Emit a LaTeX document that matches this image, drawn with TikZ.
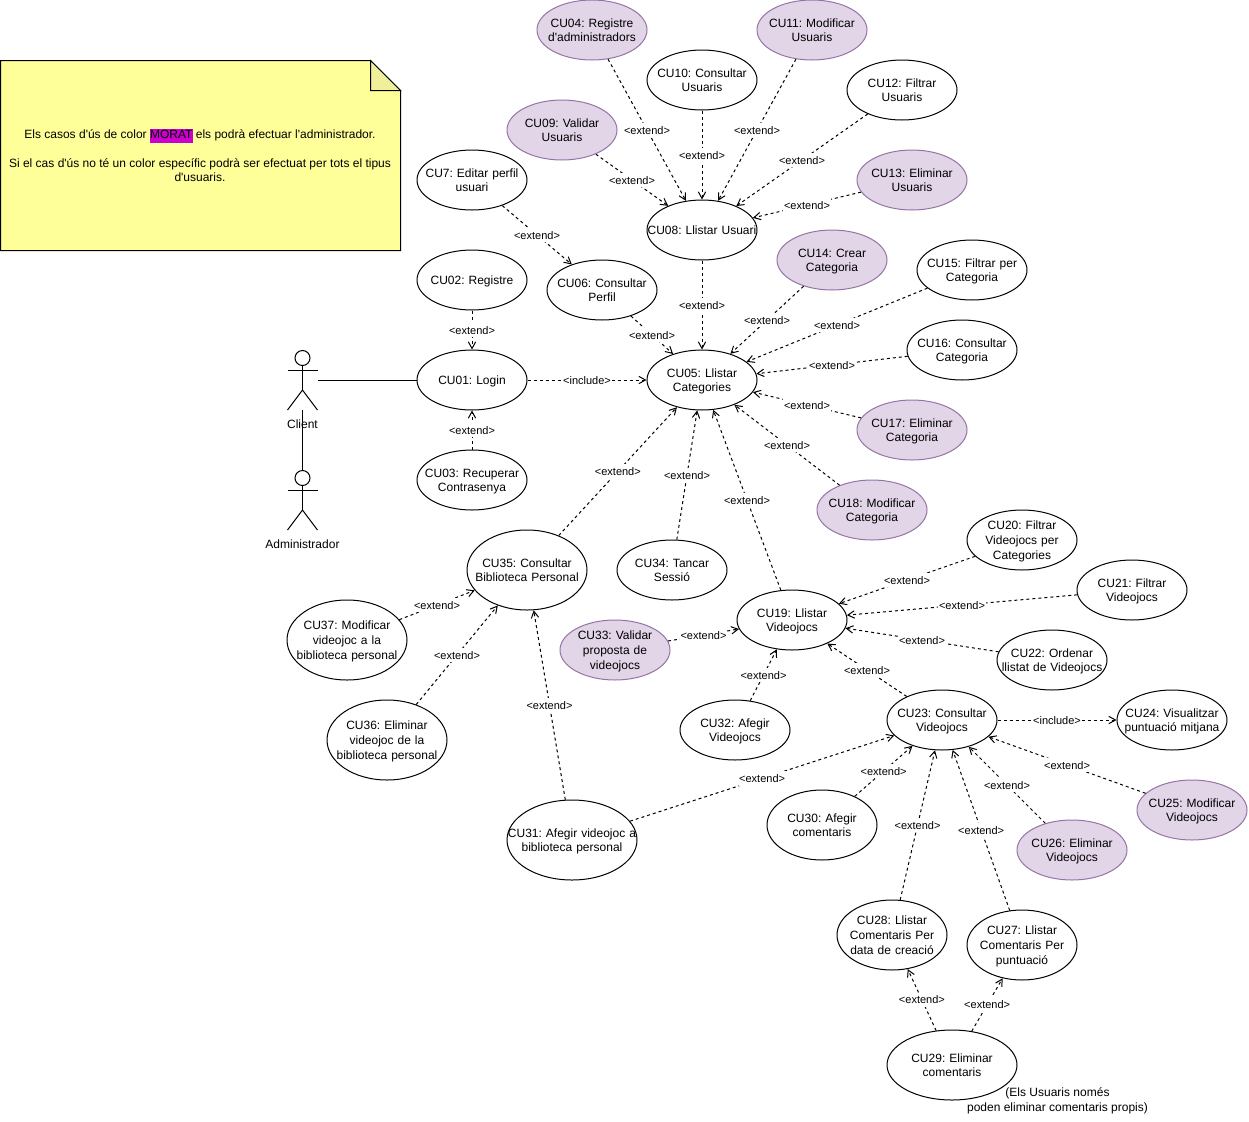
\documentclass[tikz,border=0pt]{standalone}
\usepackage{fontspec}
\setmainfont{Liberation Sans}[Ligatures=TeXOff]
\usepackage{xcolor}
\usetikzlibrary{shapes.geometric, arrows.meta}
\definecolor{moratfill}{HTML}{E1D5E7}
\definecolor{moratline}{HTML}{9673A6}
\definecolor{moratmark}{HTML}{CC00CC}
\definecolor{notefill}{HTML}{FFFF99}
\definecolor{notefold}{HTML}{F0F09A}
\frenchspacing
\newcommand{\hmorat}[1]{\setlength{\fboxsep}{0pt}\colorbox{moratmark}{\strut #1}}
\newcommand{\stickman}[3]{%
    \node[actorbox] (#1) at (#2, #3) {};
    \draw[line] (#2, #3-22) circle[radius=7.5];
    \draw[line] (#2-15, #3-10) -- (#2+15, #3-10);
    \draw[line] (#2, #3-14.5) -- (#2, #3+10);
    \draw[line] (#2-15, #3+30) -- (#2, #3+10) -- (#2+15, #3+30);
}
\tikzset{
    line/.style={line width=0.75pt},
    usecase/.style={ellipse, draw, line width=0.75pt, fill=white, inner xsep=-40pt, inner ysep=-12pt,
        text width=120pt, align=center,
        minimum width=82.5pt, minimum height=45pt, font=\fontsize{9}{11}\selectfont,
        execute at begin node={\rule{0pt}{9.3pt}}, execute at end node={\rule[-2.5pt]{0pt}{2.5pt}}},
    morat/.style={usecase, draw=moratline, fill=moratfill},
    mida/.style n args={2}{minimum width=#1*0.75pt, minimum height=#2*0.75pt},
    actorbox/.style={inner sep=0pt, minimum width=22.5pt, minimum height=45pt},
    actorlabel/.style={inner sep=0pt, font=\fontsize{9}{11}\selectfont},
    notetext/.style={inner sep=0pt, align=center, font=\fontsize{9}{11}\selectfont},
    linklabel/.style={fill=white, inner sep=0.5pt, font=\fontsize{8.25}{10}\selectfont,
        execute at begin node={\rule{0pt}{8pt}}, execute at end node={\rule[-1.9pt]{0pt}{1.9pt}}},
    extarrow/.style={line width=0.75pt, dash pattern=on 2.25pt off 2.25pt,
        -{Straight Barb[length=5pt, width=5.5pt]}},
}
\begin{document}
\begin{tikzpicture}[x=0.75pt, y=-0.75pt]
    \useasboundingbox (0,0) rectangle (1249,1121);

    \draw[line, fill=notefill] (0.5,60.5) -- (370.5,60.5) -- (400.5,90.5) -- (400.5,250.5) -- (0.5,250.5) -- cycle;
    \draw[line, fill=notefold] (370.5,60.5) -- (370.5,90.5) -- (400.5,90.5) -- cycle;
    \node[notetext] (notemorat) at (200,136) {Els casos d'ús de color \hmorat{MORAT} els podrà efectuar l'administrador.};
    \node[notetext] (notetots) at (200,170) {Si el cas d'ús no té un color específic podrà ser efectuat per tots el tipus\\d'usuaris.};

    \stickman{client}{302.5}{380}
    \node[actorlabel] (clientlabel) at (302.5,424) {Client};
    \stickman{admin}{302.5}{500}
    \node[actorlabel] (adminlabel) at (302.5,544) {Administrador};

    \node[morat] (cu04) at (592,30) {CU04: Registre\\d'administradors};
    \node[usecase] (cu10) at (702,80) {CU10: Consultar\\Usuaris};
    \node[morat] (cu11) at (812,30) {CU11: Modificar\\Usuaris};
    \node[usecase] (cu12) at (902,90) {CU12: Filtrar\\Usuaris};
    \node[morat] (cu09) at (562,130) {CU09: Validar\\Usuaris};
    \node[morat] (cu13) at (912,180) {CU13: Eliminar\\Usuaris};
    \node[usecase] (cu07) at (472,180) {CU7: Editar perfil\\usuari};
    \node[usecase] (cu08) at (702,230) {CU08: Llistar Usuari};
    \node[morat] (cu14) at (832,260) {CU14: Crear\\Categoria};
    \node[usecase] (cu15) at (972,270) {CU15: Filtrar per\\Categoria};
    \node[usecase] (cu02) at (472,280) {CU02: Registre};
    \node[usecase] (cu06) at (602,290) {CU06: Consultar\\Perfil};
    \node[usecase] (cu16) at (962,350) {CU16: Consultar\\Categoria};
    \node[usecase] (cu01) at (472,380) {CU01: Login};
    \node[usecase] (cu05) at (702,380) {CU05: Llistar\\Categories};
    \node[morat] (cu17) at (912,430) {CU17: Eliminar\\Categoria};
    \node[usecase] (cu03) at (472,480) {CU03: Recuperar\\Contrasenya};
    \node[morat] (cu18) at (872,510) {CU18: Modificar\\Categoria};
    \node[usecase] (cu20) at (1022,540) {CU20: Filtrar\\Videojocs per\\Categories};
    \node[usecase] (cu34) at (672,570) {CU34: Tancar\\Sessió};
    \node[usecase, mida={120}{80}] (cu35) at (527,570) {CU35: Consultar\\Biblioteca Personal};
    \node[usecase] (cu21) at (1132,590) {CU21: Filtrar\\Videojocs};
    \node[usecase] (cu19) at (792,620) {CU19: Llistar\\Videojocs};
    \node[usecase, mida={120}{80}] (cu37) at (347,640) {CU37: Modificar\\videojoc a la\\biblioteca personal};
    \node[morat] (cu33) at (615,650) {CU33: Validar\\proposta de\\videojocs};
    \node[usecase] (cu22) at (1052,660) {CU22: Ordenar\\llistat de Videojocs};
    \node[usecase, mida={120}{80}] (cu36) at (387,740) {CU36: Eliminar\\videojoc de la\\biblioteca personal};
    \node[usecase] (cu32) at (735,730) {CU32: Afegir\\Videojocs};
    \node[usecase] (cu23) at (942,720) {CU23: Consultar\\Videojocs};
    \node[usecase] (cu24) at (1172,720) {CU24: Visualitzar\\puntuació mitjana};
    \node[morat] (cu25) at (1192,810) {CU25: Modificar\\Videojocs};
    \node[usecase, mida={110}{70}] (cu30) at (822,825) {CU30: Afegir\\comentaris};
    \node[morat] (cu26) at (1072,850) {CU26: Eliminar\\Videojocs};
    \node[usecase, mida={130}{80}] (cu31) at (572,840) {CU31: Afegir videojoc a\\biblioteca personal};
    \node[usecase, mida={110}{70}] (cu28) at (892,935) {CU28: Llistar\\Comentaris Per\\data de creació};
    \node[usecase, mida={110}{70}] (cu27) at (1022,945) {CU27: Llistar\\Comentaris Per\\puntuació};
    \node[usecase, mida={130}{70}] (cu29) at (952,1065) {CU29: Eliminar\\comentaris};
    \node[notetext] (cu29note) at (1057.5,1101) {(Els Usuaris només\\poden eliminar comentaris propis)};

    \draw[line] (client.east) -- (cu01);
    \draw[line] (client.south) -- (admin.north);

    \draw[extarrow] (cu04) -- node[linklabel] {<extend>} (cu08);
    \draw[extarrow] (cu10) -- node[linklabel] {<extend>} (cu08);
    \draw[extarrow] (cu11) -- node[linklabel] {<extend>} (cu08);
    \draw[extarrow] (cu12) -- node[linklabel] {<extend>} (cu08);
    \draw[extarrow] (cu09) -- node[linklabel] {<extend>} (cu08);
    \draw[extarrow] (cu13) -- node[linklabel] {<extend>} (cu08);
    \draw[extarrow] (cu07) -- node[linklabel] {<extend>} (cu06);

    \draw[extarrow] (cu06) -- node[linklabel] {<extend>} (cu05);
    \draw[extarrow] (cu08) -- node[linklabel] {<extend>} (cu05);
    \draw[extarrow] (cu14) -- node[linklabel] {<extend>} (cu05);
    \draw[extarrow] (cu15) -- node[linklabel] {<extend>} (cu05);
    \draw[extarrow] (cu16) -- node[linklabel] {<extend>} (cu05);
    \draw[extarrow] (cu17) -- node[linklabel] {<extend>} (cu05);
    \draw[extarrow] (cu18) -- node[linklabel] {<extend>} (cu05);
    \draw[extarrow] (cu35) -- node[linklabel] {<extend>} (cu05);
    \draw[extarrow] (cu34) -- node[linklabel] {<extend>} (cu05);
    \draw[extarrow] (cu19) -- node[linklabel] {<extend>} (cu05);

    \draw[extarrow] (cu02) -- node[linklabel] {<extend>} (cu01);
    \draw[extarrow] (cu03) -- node[linklabel] {<extend>} (cu01);
    \draw[extarrow] (cu01) -- node[linklabel] {<include>} (cu05);

    \draw[extarrow] (cu37) -- node[linklabel] {<extend>} (cu35);
    \draw[extarrow] (cu36) -- node[linklabel] {<extend>} (cu35);
    \draw[extarrow] (cu31) -- node[linklabel] {<extend>} (cu35);

    \draw[extarrow] (cu20) -- node[linklabel] {<extend>} (cu19);
    \draw[extarrow] (cu21) -- node[linklabel] {<extend>} (cu19);
    \draw[extarrow] (cu22) -- node[linklabel] {<extend>} (cu19);
    \draw[extarrow] (cu23) -- node[linklabel] {<extend>} (cu19);
    \draw[extarrow] (cu33) -- node[linklabel] {<extend>} (cu19);
    \draw[extarrow] (cu32) -- node[linklabel] {<extend>} (cu19);

    \draw[extarrow] (cu23) -- node[linklabel] {<include>} (cu24);
    \draw[extarrow] (cu25) -- node[linklabel] {<extend>} (cu23);
    \draw[extarrow] (cu26) -- node[linklabel] {<extend>} (cu23);
    \draw[extarrow] (cu30) -- node[linklabel] {<extend>} (cu23);
    \draw[extarrow] (cu31) -- node[linklabel] {<extend>} (cu23);
    \draw[extarrow] (cu28) -- node[linklabel] {<extend>} (cu23);
    \draw[extarrow] (cu27) -- node[linklabel] {<extend>} (cu23);

    \draw[extarrow] (cu29) -- node[linklabel] {<extend>} (cu28);
    \draw[extarrow] (cu29) -- node[linklabel] {<extend>} (cu27);

\end{tikzpicture}
\end{document}
